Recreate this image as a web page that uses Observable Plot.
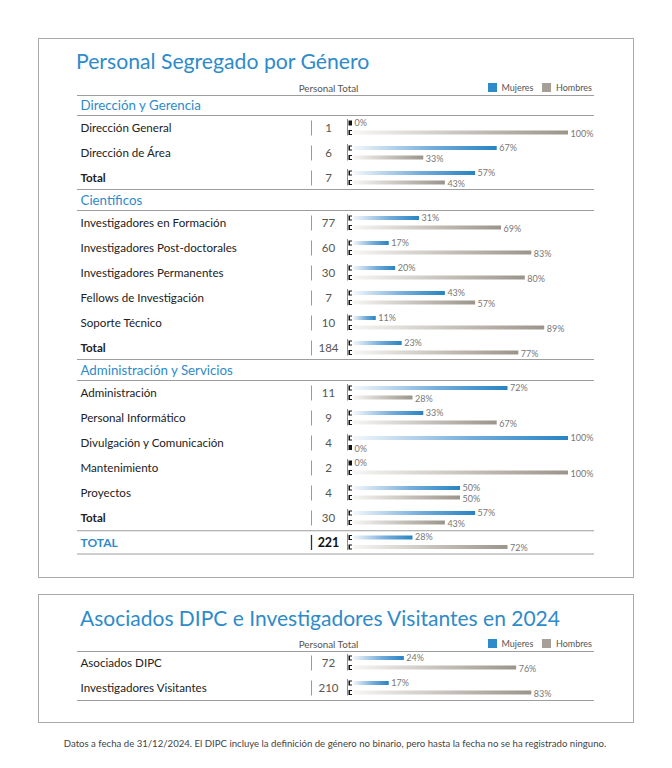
<!DOCTYPE html>
<html><head><meta charset="utf-8">
<script src="https://cdn.jsdelivr.net/npm/d3@7"></script>
<script src="https://cdn.jsdelivr.net/npm/@observablehq/plot@0.6"></script>
<style>
body{margin:0;background:#fff;font-family:Lato,"Open Sans",sans-serif;}
#page{position:relative;width:672px;height:768px;overflow:hidden;background:#fff;}
.box{position:absolute;border:1px solid #a9a9a9;box-sizing:border-box;}
.title{position:absolute;color:#2e8bca;font-weight:400;white-space:nowrap;line-height:1;}
.foot{position:absolute;left:0;width:670px;text-align:center;font-size:9.6px;color:#444;line-height:1;}
</style></head><body><div id="page"></div>
<script>
// ---------- data ----------
const title1 = "Personal Segregado por Género";
const title2 = "Asociados DIPC e Investigadores Visitantes en 2024";
const colHeader = "Personal Total";
const legendLabels = ["Mujeres", "Hombres"];
const sections = ["Dirección y Gerencia", "Científicos", "Administración y Servicios"];
const categories = [
  "Dirección General", "Dirección de Área", "Total",
  "Investigadores en Formación", "Investigadores Post-doctorales", "Investigadores Permanentes",
  "Fellows de Investigación", "Soporte Técnico", "Total",
  "Administración", "Personal Informático", "Divulgación y Comunicación",
  "Mantenimiento", "Proyectos", "Total"
];
const categorySection = [0,0,0, 1,1,1,1,1,1, 2,2,2,2,2,2];
const personalTotal = [1,6,7, 77,60,30,7,10,184, 11,9,4,2,4,30];
const mujeres = [0,67,57, 31,17,20,43,11,23, 72,33,100,0,50,57];
const hombres = [100,33,43, 69,83,80,57,89,77, 28,67,0,100,50,43];
const grandLabel = "TOTAL";
const grandTotal = 221, grandMujeres = 28, grandHombres = 72;
const visitorCategories = ["Asociados DIPC", "Investigadores Visitantes"];
const visitorTotal = [72, 210];
const visitorMujeres = [24, 17];
const visitorHombres = [76, 83];
const footnote = "Datos a fecha de 31/12/2024. El DIPC incluye la definición de género no binario, pero hasta la fecha no se ha registrado ninguno.";

// ---------- colours ----------
const BLUE = "#2e8bca", GRAY = "#a59f97";

// ---------- layout (row units) ----------
function layoutPanel1() {
  const items = []; let u = 0; let prev = null;
  sections.forEach((s, si) => {
    if (prev) u += 0.88;
    items.push({kind: "section", label: s, y: u}); prev = "section";
    categories.forEach((c, i) => {
      if (categorySection[i] !== si) return;
      u += prev === "section" ? 0.92 : 1;
      items.push({kind: c === "Total" ? "total" : "row", label: c, total: personalTotal[i], m: mujeres[i], h: hombres[i], y: u});
      prev = "row";
    });
  });
  u += 0.98;
  items.push({kind: "grand", label: grandLabel, total: grandTotal, m: grandMujeres, h: grandHombres, y: u});
  const lines = [items[0].y - 0.4];
  for (let i = 0; i < items.length - 1; i++) {
    const a = items[i], b = items[i + 1];
    if (a.kind === "section") lines.push(a.y + 0.4);
    else if (b.kind === "section" || b.kind === "grand") lines.push((a.y + b.y) / 2);
  }
  lines.push(items[items.length - 1].y + 0.44);
  return {items, lines, headerY: items[0].y - 0.68};
}
function layoutPanel2() {
  const items = visitorCategories.map((c, i) => ({kind: "row", label: c, total: visitorTotal[i], m: visitorMujeres[i], h: visitorHombres[i], y: i}));
  return {items, lines: [-0.48, items[items.length - 1].y + 0.48], headerY: -0.76};
}

function addDefs(svg, id) {
  const defs = d3.select(svg).insert("defs", ":first-child");
  const gM = defs.append("linearGradient").attr("id", id + "M").attr("x1", 0).attr("x2", 1).attr("y1", 0).attr("y2", 0);
  gM.append("stop").attr("offset", "0").attr("stop-color", "#f4f8fc");
  gM.append("stop").attr("offset", "0.55").attr("stop-color", "#74addb");
  gM.append("stop").attr("offset", "1").attr("stop-color", "#2783c3");
  const gH = defs.append("linearGradient").attr("id", id + "H").attr("x1", 0).attr("x2", 1).attr("y1", 0).attr("y2", 0);
  gH.append("stop").attr("offset", "0").attr("stop-color", "#f7f6f4");
  gH.append("stop").attr("offset", "0.55").attr("stop-color", "#c4bfb8");
  gH.append("stop").attr("offset", "1").attr("stop-color", "#9b948b");
}

function panelPlot(layout, id, height, yDomain) {
  const items = layout.items;
  const rows = items.filter(d => d.kind !== "section");
  const secs = items.filter(d => d.kind === "section");
  const plain = rows.filter(d => d.kind !== "grand");
  const grand = rows.filter(d => d.kind === "grand");
  const lab = (data, o) => Plot.text(data, Object.assign({frameAnchor: "left", dx: 3, y: "y", text: "label", textAnchor: "start", fontSize: 11.6}, o));
  const num = (data, o) => Plot.text(data, Object.assign({frameAnchor: "left", dx: 251, y: "y", text: d => String(d.total), textAnchor: "middle", fontSize: 11.5}, o));
  const svg = Plot.plot({
    width: 672, height,
    marginLeft: 77, marginRight: 78, marginTop: 0, marginBottom: 0,
    x: {domain: [0, 100], range: [352, 568], axis: null},
    y: {domain: yDomain, range: [0, height], axis: null},
    style: {fontFamily: "Lato, 'Open Sans', sans-serif", background: "transparent", overflow: "visible"},
    marks: [
      Plot.ruleY(layout.lines, {y: d => d, stroke: "#9d9d9d", strokeWidth: 1}),
      Plot.text([colHeader], {frameAnchor: "left", dx: 251, y: () => layout.headerY, text: d => d, textAnchor: "middle", fontSize: 9.8, fill: "#555"}),
      lab(secs, {fill: BLUE, fontSize: 13.3}),
      lab(rows.filter(d => d.kind === "row"), {fill: "#222"}),
      lab(rows.filter(d => d.kind === "total"), {fill: "#222", fontWeight: "bold"}),
      lab(grand, {fill: BLUE, fontWeight: "bold", fontSize: 12}),
      // number column
      Plot.ruleX(plain, {x: d => 0, dx: -41, y1: d => d.y - 0.3, y2: d => d.y + 0.3, stroke: "#9a9a9a", strokeWidth: 1}),
      Plot.ruleX(grand, {x: d => 0, dx: -41, y1: d => d.y - 0.3, y2: d => d.y + 0.3, stroke: "#333", strokeWidth: 1.3}),
      num(plain, {fill: "#555"}),
      num(grand, {fill: "#111", fontWeight: "bold", fontSize: 12.5}),
      // bar group axis line
      Plot.ruleX(rows, {x: d => 0, dx: -5, y1: d => d.y - 0.36, y2: d => d.y + 0.3, stroke: "#8a8a8a", strokeWidth: 1}),
      // markers
      Plot.rect(rows, {x1: d => 0, x2: d => 0, y1: "y", y2: "y", insetLeft: -3.5, insetTop: -2.5, insetBottom: -2.5, dy: -5, fill: "#111"}),
      Plot.rect(rows, {x1: d => 0, x2: d => 0, y1: "y", y2: "y", insetLeft: -3.5, insetTop: -2.5, insetBottom: -2.5, dy: 4.5, fill: "#111"}),
      Plot.rect(rows.filter(d => d.m > 0), {x1: d => 0, x2: d => 0, y1: "y", y2: "y", insetLeft: -2, insetTop: -1.5, insetBottom: -1.5, dy: -5, fill: "#fff"}),
      Plot.rect(rows.filter(d => d.h > 0), {x1: d => 0, x2: d => 0, y1: "y", y2: "y", insetLeft: -2, insetTop: -1.5, insetBottom: -1.5, dy: 4.5, fill: "#fff"}),
      // bars
      Plot.rect(rows.filter(d => d.m > 0), {x1: d => 0, x2: "m", y1: "y", y2: "y", insetLeft: 0.8, insetTop: -2, insetBottom: -2, dy: -5, fill: `url(#${id}M)`}),
      Plot.rect(rows.filter(d => d.h > 0), {x1: d => 0, x2: "h", y1: "y", y2: "y", insetLeft: 0.8, insetTop: -2, insetBottom: -2, dy: 4.5, fill: `url(#${id}H)`}),
      // value labels
      Plot.text(rows, {x: "m", y: "y", dx: 2, dy: -5.5, text: d => d.m + "%", textAnchor: "start", fontSize: 9, fill: "#777"}),
      Plot.text(rows, {x: "h", y: "y", dx: 2, dy: 5.5, text: d => d.h + "%", textAnchor: "start", fontSize: 9, fill: "#777"})
    ]
  });
  addDefs(svg, id);
  return svg;
}

function legend() {
  return Plot.legend({
    color: {type: "categorical", domain: legendLabels, range: [BLUE, GRAY]},
    legend: "swatches", swatchSize: 9,
    style: {fontFamily: "Lato, sans-serif", fontSize: "9px", color: "#555", margin: 0}
  });
}

const page = document.getElementById("page");
function place(el, left, top) { el.style.position = "absolute"; el.style.left = left + "px"; el.style.top = top + "px"; page.appendChild(el); return el; }
function div(cls, text, style) { const d = document.createElement("div"); d.className = cls; d.textContent = text; Object.assign(d.style, style || {}); page.appendChild(d); return d; }

div("box", "", {left: "38px", top: "38px", width: "596px", height: "540px"});
div("box", "", {left: "38px", top: "594px", width: "596px", height: "129px"});
div("title", title1, {left: "76px", top: "51px", fontSize: "21.2px"});
div("title", title2, {left: "80px", top: "607px", fontSize: "21px"});

const l1 = layoutPanel1();
place(panelPlot(l1, "p1", 480, [-1, 18.2]), 0, 80);
const l2 = layoutPanel2();
place(panelPlot(l2, "p2", 80, [-1.32, 1.88]), 0, 630);

place(legend(), 488, 71);
place(legend(), 488, 627);

div("foot", footnote, {top: "739px"});
</script>
</body></html>
